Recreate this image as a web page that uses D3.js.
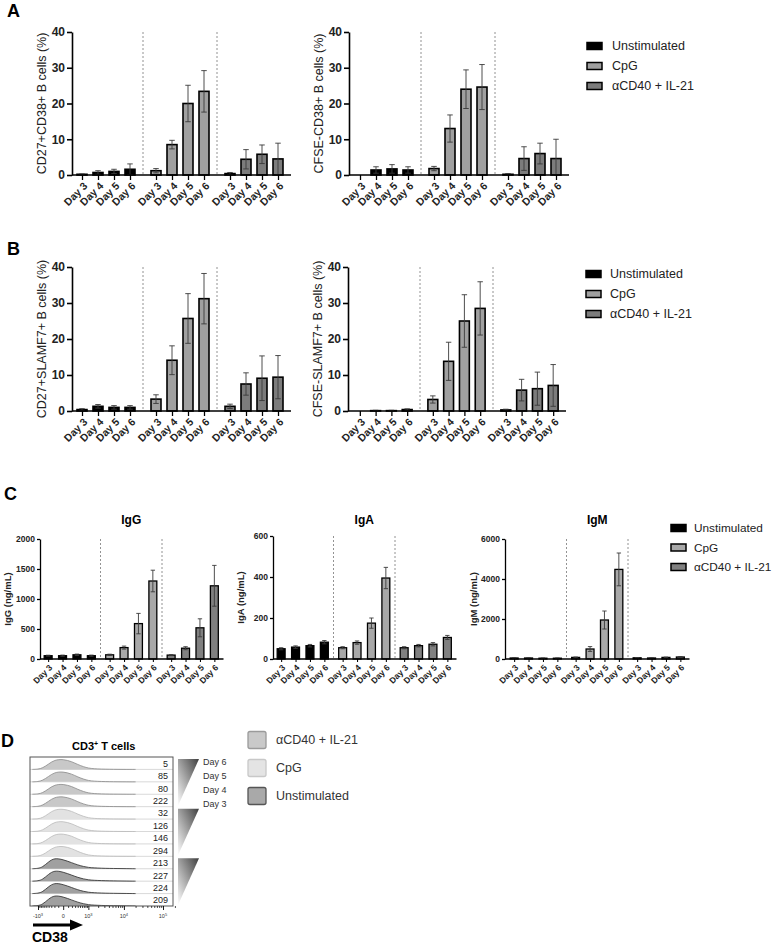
<!DOCTYPE html>
<html><head><meta charset="utf-8">
<script src="https://cdn.jsdelivr.net/npm/d3@7"></script>
<style>body{margin:0;background:#fff}svg{display:block;font-family:'Liberation Sans',Arial,sans-serif}</style>
</head><body><svg id="c" width="773" height="945"></svg>
<script>
// ---------- DATA ----------
const days = ["Day 3", "Day 4", "Day 5", "Day 6"];
const groups = ["Unstimulated", "CpG", "αCD40 + IL-21"];

const a1Mean = [[0.2, 0.7, 1.0, 1.6], [1.2, 8.5, 20.0, 23.4], [0.4, 4.4, 5.8, 4.5]];
const a1Sd   = [[0.1, 0.5, 0.6, 1.5], [0.6, 1.2, 5.1, 5.8], [0.3, 2.7, 2.6, 4.4]];
const a2Mean = [[0, 1.4, 1.7, 1.4], [1.8, 13.0, 24.0, 24.6], [0.2, 4.6, 6.0, 4.6]];
const a2Sd   = [[0, 0.9, 1.2, 0.9], [0.6, 3.8, 5.4, 6.3], [0.2, 3.3, 2.9, 5.4]];
const b1Mean = [[0.4, 1.3, 1.0, 1.0], [3.3, 14.1, 25.7, 31.2], [1.3, 7.5, 9.1, 9.4]];
const b1Sd   = [[0.25, 0.5, 0.5, 0.5], [1.2, 4.0, 6.9, 7.0], [0.6, 3.1, 6.2, 6.0]];
const b2Mean = [[0, 0.1, 0.1, 0.4], [3.2, 13.8, 25.0, 28.5], [0.3, 5.8, 6.2, 7.1]];
const b2Sd   = [[0, 0.1, 0.1, 0.2], [1.0, 5.3, 7.3, 7.4], [0.2, 3.0, 4.6, 5.8]];
const igGMean = [[55, 55, 70, 55], [70, 190, 590, 1300], [65, 180, 520, 1220]];
const igGSd   = [[8, 10, 12, 10], [10, 25, 170, 180], [8, 25, 150, 340]];
const igAMean = [[50, 58, 65, 82], [55, 80, 175, 395], [55, 65, 72, 105]];
const igASd   = [[5, 6, 6, 8], [5, 8, 25, 52], [5, 6, 8, 10]];
const igMMean = [[50, 50, 40, 40], [80, 500, 1950, 4480], [60, 50, 80, 100]];
const igMSd   = [[10, 10, 8, 8], [20, 120, 450, 820], [10, 10, 15, 20]];

const pctTicks = [0, 10, 20, 30, 40];
const igGTicks = [0, 500, 1000, 1500, 2000];
const igATicks = [0, 200, 400, 600];
const igMTicks = [0, 2000, 4000, 6000];

// Panel D (flow cytometry)
const dConditions = ["αCD40 + IL-21", "CpG", "Unstimulated"];
const dDays = ["Day 6", "Day 5", "Day 4", "Day 3"];
const dMfi = [5, 85, 80, 222, 32, 126, 146, 294, 213, 227, 224, 209];
const histBins = [-1500, -1000, -700, -400, -200, 0, 200, 400, 700, 1000, 1500, 2500, 4000, 7000, 12000, 20000];
const histStim = [0, 0.02, 0.12, 0.5, 0.88, 0.95, 0.72, 0.45, 0.24, 0.12, 0.06, 0.03, 0.015, 0.005, 0, 0];
const histUnstim = [0, 0.03, 0.14, 0.65, 1.0, 0.85, 0.55, 0.35, 0.2, 0.12, 0.08, 0.05, 0.03, 0.02, 0.01, 0];
const flowMajorTicks = [-1000, 0, 1000, 10000, 100000];
const flowTickLabels = [["-10", "3"], ["0", ""], ["10", "3"], ["10", "4"], ["10", "5"]];
const flowMinorTicks = [-900, -800, -700, -600, -500, -400, -300, -200, -100, 100, 200, 300, 400, 500, 600, 700, 800, 900,
  2000, 3000, 4000, 5000, 6000, 7000, 8000, 9000, 20000, 30000, 40000, 50000, 60000, 70000, 80000, 90000, 200000];

// ---------- DRAW ----------
const svg = d3.select("#c");
const barColors = ["#000000", "#a0a0a0", "#7c7c7c"];
const cColors = ["#000000", "#a8a8a8", "#808080"];

function panelLabel(t, x, y) {
  svg.append("text").attr("x", x).attr("y", y).attr("font-size", 18).attr("font-weight", "bold").text(t);
}

function barChart(o) {
  const g = svg.append("g");
  const y = d3.scaleLinear().domain([0, o.yMax]).range([o.y0, o.yTop]);
  const gx = d3.scaleBand().domain(groups).range([o.start, o.start + 3 * o.pitch]);
  const dx = d3.scaleBand().domain(days).range([0, o.pitch]).paddingInner(o.pi).paddingOuter(o.po);
  const recs = [];
  groups.forEach((grp, i) => days.forEach((d, j) => recs.push({grp, d, i, v: o.mean[i][j], sd: o.sd[i][j]})));
  const cx = r => gx(r.grp) + dx(r.d) + dx.bandwidth() / 2;

  g.selectAll(".sep").data(groups.slice(1)).join("line")
    .attr("x1", d => gx(d)).attr("x2", d => gx(d)).attr("y1", o.yTop).attr("y2", o.y0)
    .attr("stroke", "#777").attr("stroke-dasharray", "2,2").attr("stroke-width", 0.8);

  g.selectAll(".bar").data(recs).join("rect")
    .attr("x", r => gx(r.grp) + dx(r.d)).attr("width", dx.bandwidth())
    .attr("y", r => y(r.v)).attr("height", r => o.y0 - y(r.v))
    .attr("fill", r => o.colors[r.i]).attr("stroke", "#000").attr("stroke-width", o.bw);

  const eb = g.selectAll(".eb").data(recs.filter(r => r.sd > 0)).join("g");
  const cap = dx.bandwidth() * 0.55;
  eb.append("line").attr("x1", cx).attr("x2", cx)
    .attr("y1", r => y(Math.max(0, r.v - r.sd))).attr("y2", r => y(r.v + r.sd));
  eb.append("line").attr("x1", r => cx(r) - cap / 2).attr("x2", r => cx(r) + cap / 2)
    .attr("y1", r => y(r.v + r.sd)).attr("y2", r => y(r.v + r.sd));
  eb.append("line").attr("x1", r => cx(r) - cap / 2).attr("x2", r => cx(r) + cap / 2)
    .attr("y1", r => y(Math.max(0, r.v - r.sd))).attr("y2", r => y(Math.max(0, r.v - r.sd)));
  eb.selectAll("line").attr("stroke", "#3a3a3a").attr("stroke-width", 0.9);

  const ya = g.append("g").attr("transform", `translate(${o.axisX},0)`)
    .call(d3.axisLeft(y).tickValues(o.ticks).tickSize(o.tick).tickSizeOuter(0).tickPadding(2).tickFormat(d3.format("d")));
  ya.select(".domain").attr("stroke-width", o.aw);
  ya.selectAll(".tick line").attr("stroke-width", o.aw);
  ya.selectAll("text").attr("font-size", o.tfs).attr("font-weight", "bold").attr("fill", "#222")
    .attr("font-family", "'Liberation Sans',Arial,sans-serif");

  const keys = recs.map(r => r.grp + "|" + r.d);
  const xo = d3.scaleOrdinal().domain(keys).range(recs.map(cx));
  const xa = g.append("g").attr("transform", `translate(0,${o.y0})`)
    .call(d3.axisBottom(xo).tickSize(o.tick).tickFormat(k => k.split("|")[1]));
  xa.select(".domain").remove();
  xa.selectAll(".tick line").attr("stroke-width", o.aw * 0.8);
  xa.selectAll("text").attr("x", 0).attr("y", 0).attr("dy", "0.35em")
    .attr("text-anchor", "end").attr("transform", `translate(${o.lx},${o.ly}) rotate(-45)`)
    .attr("font-size", o.xfs).attr("font-weight", "bold").attr("fill", "#222")
    .attr("font-family", "'Liberation Sans',Arial,sans-serif");
  g.append("line").attr("x1", o.axisX).attr("x2", o.start + 3 * o.pitch).attr("y1", o.y0).attr("y2", o.y0)
    .attr("stroke", "#000").attr("stroke-width", o.aw);

  g.append("text").attr("transform", `translate(${o.titleX},${(o.y0 + o.yTop) / 2}) rotate(-90)`)
    .attr("text-anchor", "middle").attr("font-size", o.yfs).attr("font-weight", o.ytw || "normal")
    .attr("fill", "#222").text(o.yTitle);
  if (o.title) {
    g.append("text").attr("x", o.start + 1.5 * o.pitch).attr("y", o.titleY).attr("text-anchor", "middle")
      .attr("font-size", 12).attr("font-weight", "bold").text(o.title);
  }
}

function legend(x, y0, step, sw, sh, tx, fs, cols) {
  const g = svg.append("g");
  const rows = g.selectAll("g").data(groups).join("g").attr("transform", (d, i) => `translate(0,${y0 + i * step})`);
  rows.append("rect").attr("x", x).attr("y", -sh / 2).attr("width", sw).attr("height", sh)
    .attr("fill", (d, i) => cols[i]).attr("stroke", "#000").attr("stroke-width", 1.5);
  rows.append("text").attr("x", tx).attr("y", 0).attr("dy", "0.35em").attr("font-size", fs).attr("fill", "#222").text(d => d);
}

const abBase = {yMax: 40, ticks: pctTicks, pitch: 74, pi: 0.375, po: 0.5, colors: barColors, bw: 1.6, aw: 1.6,
  tick: 5, tfs: 12, xfs: 10.5, yfs: 12.5, lx: 3, ly: 9};

// Panel A
panelLabel("A", 7, 17);
barChart(Object.assign({}, abBase, {axisX: 72, start: 69, y0: 175, yTop: 32, mean: a1Mean, sd: a1Sd,
  yTitle: "CD27+CD38+ B cells (%)", titleX: 46}));
barChart(Object.assign({}, abBase, {axisX: 349, start: 347, y0: 175, yTop: 32, mean: a2Mean, sd: a2Sd,
  yTitle: "CFSE-CD38+ B cells (%)", titleX: 323}));
legend(587, 46, 20, 15, 7, 612, 12.5, barColors);

// Panel B
panelLabel("B", 7, 255);
barChart(Object.assign({}, abBase, {axisX: 72, start: 69, y0: 411, yTop: 267, mean: b1Mean, sd: b1Sd,
  yTitle: "CD27+SLAMF7+ B cells (%)", titleX: 46}));
barChart(Object.assign({}, abBase, {axisX: 348, start: 347, pitch: 73, y0: 411, yTop: 267, mean: b2Mean, sd: b2Sd,
  yTitle: "CFSE-SLAMF7+ B cells (%)", titleX: 322}));
legend(586, 274, 20, 15, 7, 610, 12.5, barColors);

// Panel C
panelLabel("C", 4, 500);
const cBase = {pitch: 61.5, pi: 0.45, po: 0.36, colors: cColors, bw: 1.3, aw: 1.3, tick: 3, tfs: 8.5, xfs: 8.5,
  yfs: 9.5, ytw: "bold", lx: 2, ly: 7, titleY: 524, y0: 659};
barChart(Object.assign({}, cBase, {axisX: 40, start: 39, yTop: 539, yMax: 2000, ticks: igGTicks, mean: igGMean, sd: igGSd,
  yTitle: "IgG (ng/mL)", titleX: 11, title: "IgG"}));
barChart(Object.assign({}, cBase, {axisX: 273, start: 272, yTop: 536, yMax: 600, ticks: igATicks, mean: igAMean, sd: igASd,
  yTitle: "IgA (ng/mL)", titleX: 244, title: "IgA"}));
barChart(Object.assign({}, cBase, {axisX: 505, start: 505, yTop: 539, yMax: 6000, ticks: igMTicks, mean: igMMean, sd: igMSd,
  yTitle: "IgM (ng/mL)", titleX: 477, title: "IgM"}));
legend(671, 528, 19.5, 15, 7, 694, 11.8, cColors);

// Panel D
panelLabel("D", 1, 747);
const dg = svg.append("g");
dg.append("text").attr("x", 72).attr("y", 750).attr("font-size", 11).attr("font-weight", "bold")
  .text("CD3").append("tspan").attr("dy", -4).attr("font-size", 7).text("+");
dg.select("text").append("tspan").attr("dy", 4).text(" T cells");

const box = {x0: 30, x1: 173, y0: 757, y1: 906};
const rowScale = d3.scaleBand().domain(d3.range(12)).range([box.y0, box.y1]);
const fx = d3.scaleSymlog().constant(300).domain([-1000, 100000]).range([38, 163]);
const hy = d3.scaleLinear().domain([0, 1]).range([0, 10.8]);
dg.append("clipPath").attr("id", "boxclip").append("rect")
  .attr("x", box.x0).attr("y", box.y0).attr("width", box.x1 - box.x0).attr("height", box.y1 - box.y0);
const histStyles = [
  {fill: "#c8c8c8", stroke: "#8a8a8a"},
  {fill: "#e2e2e2", stroke: "#bababa"},
  {fill: "#a0a0a0", stroke: "#2a2a2a"}
];
const rowsData = dMfi.map((m, k) => ({k, m, c: Math.floor(k / 4)}));
const hg = dg.append("g").attr("clip-path", "url(#boxclip)");
hg.selectAll(".sepl").data(d3.range(1, 12)).join("line")
  .attr("x1", box.x0).attr("x2", box.x1).attr("y1", k => rowScale(k)).attr("y2", k => rowScale(k))
  .attr("stroke", "#cfcfcf").attr("stroke-width", 0.8);
rowsData.forEach(r => {
  const base = rowScale(r.k) + rowScale.bandwidth();
  const prof = r.c === 2 ? histUnstim : histStim;
  const pts = histBins.map((b, i) => ({v: b, d: prof[i]}));
  const area = d3.area().x(p => fx(p.v)).y0(base).y1(p => base - hy(p.d)).curve(d3.curveBasis);
  const line = d3.line().x(p => fx(p.v)).y(p => base - hy(p.d)).curve(d3.curveBasis);
  hg.append("path").attr("d", area(pts)).attr("fill", histStyles[r.c].fill);
  hg.append("path").attr("d", line(pts)).attr("fill", "none").attr("stroke", histStyles[r.c].stroke).attr("stroke-width", 0.8);
});
dg.selectAll(".mfi").data(rowsData).join("text")
  .attr("x", 168).attr("y", r => rowScale(r.k) + rowScale.bandwidth() / 2).attr("dy", "0.4em")
  .attr("text-anchor", "end").attr("font-size", 9).attr("fill", "#222").text(r => r.m);
dg.append("rect").attr("x", box.x0).attr("y", box.y0).attr("width", box.x1 - box.x0).attr("height", box.y1 - box.y0)
  .attr("fill", "none").attr("stroke", "#555").attr("stroke-width", 1);

const fa = dg.append("g").attr("transform", `translate(0,${box.y1})`);
fa.call(d3.axisBottom(fx).tickValues(flowMinorTicks).tickSize(2).tickFormat(""));
fa.select(".domain").remove();
const fa2 = dg.append("g").attr("transform", `translate(0,${box.y1})`);
fa2.call(d3.axisBottom(fx).tickValues(flowMajorTicks).tickSize(4).tickFormat(""));
fa2.select(".domain").remove();
fa.selectAll("line").attr("stroke-width", 0.7);
fa2.selectAll("line").attr("stroke-width", 0.9);
const ftl = dg.selectAll(".ftl").data(flowMajorTicks).join("text")
  .attr("x", d => fx(d)).attr("y", box.y1 + 12).attr("text-anchor", "middle").attr("font-size", 5.5).attr("fill", "#333");
ftl.text((d, i) => flowTickLabels[i][0]);
ftl.append("tspan").attr("dy", -2.5).attr("font-size", 4).text((d, i) => flowTickLabels[i][1]);

dg.append("line").attr("x1", 33).attr("x2", 72).attr("y1", 925).attr("y2", 925).attr("stroke", "#000").attr("stroke-width", 3);
dg.append("path").attr("d", "M70,919.5 L83,925 L70,930.5 Z").attr("fill", "#000");
dg.append("text").attr("x", 32).attr("y", 942).attr("font-size", 14).attr("font-weight", "bold").text("CD38");

const defs = svg.append("defs");
const grad = defs.append("linearGradient").attr("id", "tri").attr("x1", 1).attr("y1", 0).attr("x2", 0).attr("y2", 1);
grad.append("stop").attr("offset", 0).attr("stop-color", "#3f3f3f");
grad.append("stop").attr("offset", 1).attr("stop-color", "#ffffff");
dConditions.forEach((c, i) => {
  const top = rowScale(i * 4) + 2, bot = rowScale(i * 4 + 3) + rowScale.bandwidth() - 1;
  dg.append("path").attr("d", `M178,${top} L199,${top} L178,${bot} Z`).attr("fill", "url(#tri)");
});
dg.selectAll(".dday").data(dDays).join("text")
  .attr("x", 203).attr("y", (d, i) => 762 + i * 14).attr("dy", "0.35em").attr("font-size", 9).attr("fill", "#333").text(d => d);

const dlCols = [{f: "#c9c9c9", s: "#9a9a9a"}, {f: "#e4e4e4", s: "#c8c8c8"}, {f: "#a9a9a9", s: "#555"}];
const dl = dg.selectAll(".dl").data(dConditions).join("g").attr("transform", (d, i) => `translate(0,${740 + i * 28})`);
dl.append("rect").attr("x", 248).attr("y", -8.5).attr("width", 18).attr("height", 17).attr("rx", 2)
  .attr("fill", (d, i) => dlCols[i].f).attr("stroke", (d, i) => dlCols[i].s).attr("stroke-width", 1.3);
dl.append("text").attr("x", 276).attr("y", 0).attr("dy", "0.35em").attr("font-size", 12.5).attr("fill", "#333").text(d => d);
</script></body></html>
